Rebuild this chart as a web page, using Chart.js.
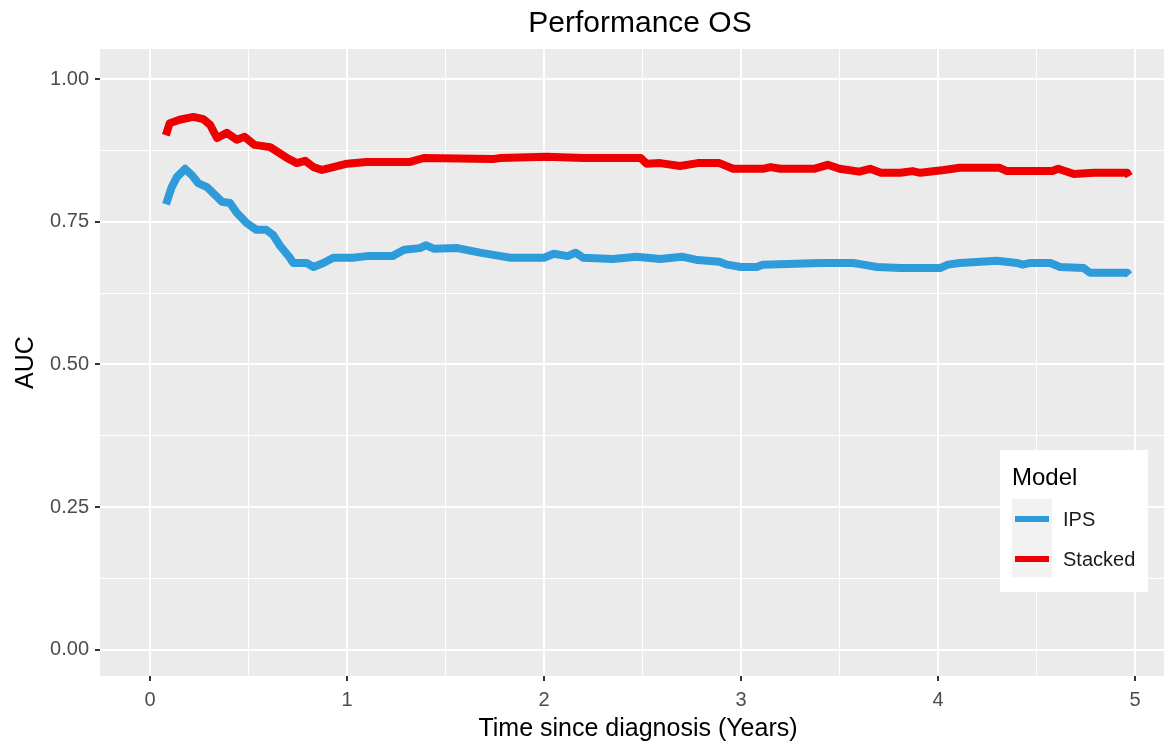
<!DOCTYPE html>
<html>
<head>
<meta charset="utf-8">
<script src="https://cdn.jsdelivr.net/npm/chart.js@4"></script>
<style>
html,body{margin:0;padding:0;background:#fff;overflow:hidden;}
canvas{display:block;}
</style>
</head>
<body>
<canvas id="c" width="1164" height="745"></canvas>
<script>
// ---- data ----
const chartTitle = "Performance OS";
const xAxisTitle = "Time since diagnosis (Years)";
const yAxisTitle = "AUC";
const legendTitle = "Model";
const seriesNames = ["IPS", "Stacked"];
const seriesColors = ["#2E9BDA", "#EE0000"];

const xTicks = [0, 1, 2, 3, 4, 5];
const yTicks = [0, 0.25, 0.5, 0.75, 1];

const ipsX = [0.081,0.11,0.137,0.178,0.212,0.244,0.289,0.34,0.366,0.406,0.44,0.49,0.54,0.59,0.625,0.66,0.71,0.727,0.795,0.83,0.88,0.93,1.03,1.1,1.23,1.29,1.37,1.40,1.44,1.56,1.675,1.78,1.83,2.0,2.05,2.12,2.16,2.2,2.35,2.47,2.59,2.7,2.78,2.89,2.93,3.0,3.08,3.11,3.4,3.57,3.62,3.69,3.81,4.01,4.05,4.11,4.3,4.4,4.43,4.47,4.57,4.62,4.74,4.77,4.96,4.97];
const ipsY = [0.781,0.811,0.829,0.843,0.832,0.818,0.811,0.794,0.785,0.783,0.766,0.748,0.736,0.736,0.727,0.708,0.687,0.678,0.678,0.671,0.678,0.687,0.687,0.690,0.690,0.701,0.704,0.709,0.703,0.704,0.696,0.690,0.687,0.687,0.694,0.690,0.696,0.687,0.685,0.689,0.685,0.689,0.683,0.680,0.675,0.671,0.671,0.675,0.678,0.678,0.675,0.671,0.669,0.669,0.675,0.678,0.682,0.678,0.675,0.678,0.678,0.671,0.669,0.661,0.661,0.657];

const stackedX = [0.08,0.10,0.15,0.22,0.27,0.305,0.34,0.39,0.44,0.48,0.53,0.61,0.695,0.745,0.787,0.83,0.873,0.93,1.0,1.1,1.32,1.39,1.74,1.78,2.01,2.2,2.49,2.52,2.59,2.69,2.78,2.89,2.96,3.11,3.15,3.2,3.37,3.44,3.5,3.6,3.655,3.71,3.81,3.87,3.91,4.03,4.11,4.31,4.35,4.58,4.61,4.69,4.79,4.96,4.97];
const stackedY = [0.902,0.923,0.929,0.934,0.930,0.920,0.897,0.906,0.894,0.899,0.885,0.881,0.862,0.853,0.857,0.846,0.841,0.846,0.852,0.855,0.855,0.862,0.860,0.862,0.864,0.862,0.862,0.852,0.853,0.848,0.853,0.853,0.843,0.843,0.846,0.843,0.843,0.850,0.843,0.838,0.843,0.836,0.836,0.839,0.836,0.841,0.845,0.845,0.839,0.839,0.843,0.834,0.836,0.836,0.830];

const toPoints = (xs, ys) => xs.map((x, i) => ({x: x, y: ys[i]}));

const FONT = "'Liberation Sans', Arial, sans-serif";

const isMajor = (v, step) => Math.abs(v / step - Math.round(v / step)) < 1e-6;

const decorPlugin = {
  id: 'decor',
  beforeDraw(chart) {
    const {ctx, chartArea: a} = chart;
    ctx.save();
    ctx.fillStyle = '#EBEBEB';
    ctx.fillRect(a.left, a.top, a.right - a.left, a.bottom - a.top);
    ctx.restore();
  },
  afterDraw(chart) {
    const {ctx, chartArea: a} = chart;
    ctx.save();
    // title
    ctx.fillStyle = '#000';
    ctx.font = '30px ' + FONT;
    ctx.textAlign = 'center';
    ctx.textBaseline = 'middle';
    ctx.fillText(chartTitle, 640, 24);
    // x axis title
    ctx.font = '25px ' + FONT;
    ctx.fillText(xAxisTitle, 638, 729);
    // y axis title
    ctx.save();
    ctx.translate(26, (a.top + a.bottom) / 2);
    ctx.rotate(-Math.PI / 2);
    ctx.fillText(yAxisTitle, 0, 0);
    ctx.restore();
    // legend
    const lx = 1000, ly = 450, lw = 148, lh = 142;
    ctx.fillStyle = '#FFFFFF';
    ctx.fillRect(lx, ly, lw, lh);
    ctx.fillStyle = '#000';
    ctx.textAlign = 'left';
    ctx.font = '24px ' + FONT;
    ctx.fillText(legendTitle, 1012, 478);
    ctx.fillStyle = '#F2F2F2';
    ctx.fillRect(1012, 499, 40, 78);
    chart.data.datasets.forEach((ds, i) => {
      const cy = 519 + i * 40;
      ctx.strokeStyle = ds.borderColor;
      ctx.lineWidth = 6;
      ctx.beginPath();
      ctx.moveTo(1015, cy);
      ctx.lineTo(1049, cy);
      ctx.stroke();
      ctx.fillStyle = '#1A1A1A';
      ctx.font = '20px ' + FONT;
      ctx.fillText(ds.label, 1063, cy + 1);
    });
    ctx.restore();
  }
};

new Chart(document.getElementById('c'), {
  type: 'line',
  data: {
    datasets: [
      { label: seriesNames[0], data: toPoints(ipsX, ipsY), borderColor: seriesColors[0], backgroundColor: seriesColors[0],
        borderWidth: 8, pointRadius: 0, tension: 0, borderJoinStyle: 'round', fill: false },
      { label: seriesNames[1], data: toPoints(stackedX, stackedY), borderColor: seriesColors[1], backgroundColor: seriesColors[1],
        borderWidth: 8, pointRadius: 0, tension: 0, borderJoinStyle: 'round', fill: false }
    ]
  },
  options: {
    responsive: false,
    animation: false,
    devicePixelRatio: 1,
    layout: { padding: { top: 49, left: 0, right: 0, bottom: 0 } },
    plugins: { legend: { display: false }, title: { display: false }, tooltip: { enabled: false } },
    scales: {
      x: {
        type: 'linear',
        min: -0.254, max: 5.147,
        afterBuildTicks(scale) {
          const t = [];
          for (let v = 0; v <= 5.0001; v += 0.5) t.push({ value: Math.round(v * 2) / 2 });
          scale.ticks = t;
        },
        afterFit(scale) { scale.height = 69; },
        border: { display: false },
        grid: {
          color: '#FFFFFF',
          lineWidth: ctx => isMajor(ctx.tick.value, 1) ? 2 : 1,
          drawTicks: true,
          tickLength: 5,
          tickWidth: 2,
          tickColor: ctx => isMajor(ctx.tick.value, 1) ? '#333333' : 'rgba(0,0,0,0)'
        },
        ticks: {
          autoSkip: false, maxRotation: 0, padding: 7,
          color: '#4D4D4D', font: { family: FONT, size: 20 },
          callback: v => isMajor(v, 1) ? xTicks[Math.round(v)].toString() : ''
        }
      },
      y: {
        type: 'linear',
        min: -0.046, max: 1.053,
        afterBuildTicks(scale) {
          const t = [];
          for (let i = 0; i <= 8; i++) t.push({ value: i * 0.125 });
          scale.ticks = t;
        },
        afterFit(scale) { scale.width = 100; },
        border: { display: false },
        grid: {
          color: '#FFFFFF',
          lineWidth: ctx => isMajor(ctx.tick.value, 0.25) ? 2 : 1,
          drawTicks: true,
          tickLength: 5,
          tickWidth: 2,
          tickColor: ctx => isMajor(ctx.tick.value, 0.25) ? '#333333' : 'rgba(0,0,0,0)'
        },
        ticks: {
          autoSkip: false, padding: 6,
          color: '#4D4D4D', font: { family: FONT, size: 20 },
          callback: v => isMajor(v, 0.25) ? yTicks[Math.round(v / 0.25)].toFixed(2) : ''
        }
      }
    }
  },
  plugins: [decorPlugin]
});
</script>
</body>
</html>
